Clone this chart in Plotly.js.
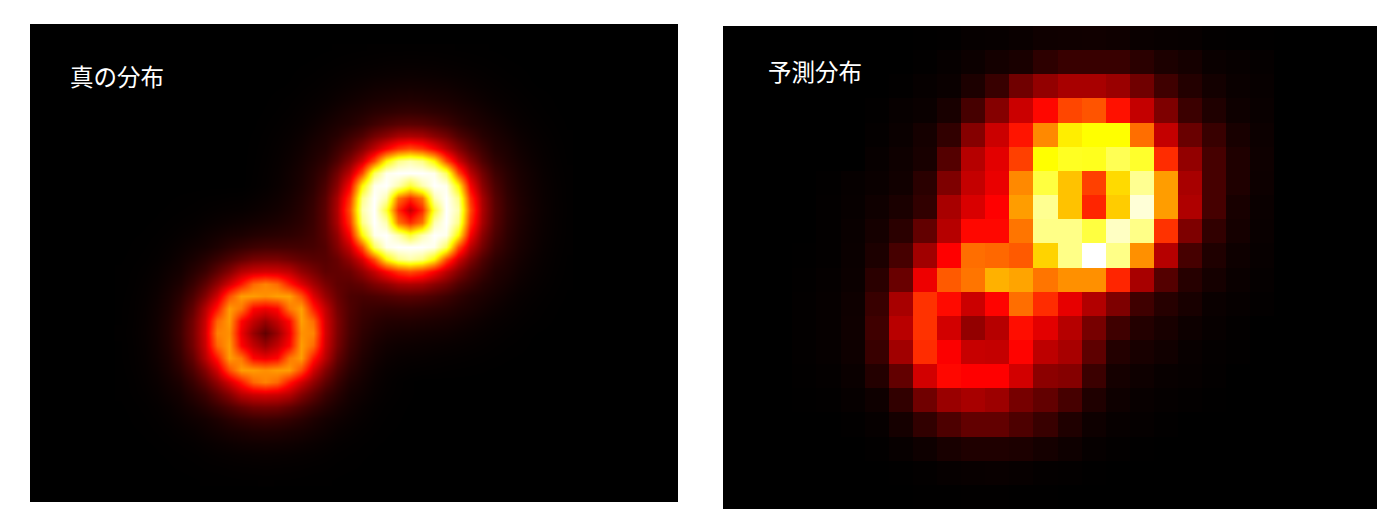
<!DOCTYPE html>
<html><head><meta charset="utf-8">
<script src="https://cdn.plot.ly/plotly-3.0.1.min.js"></script>
<style>html,body{margin:0;padding:0;background:#fff}#c{width:1400px;height:529px}</style>
</head><body><div id="c"></div>
<script>
const titles = ["真の分布", "予測分布"];
const heatStops = [[0,"#000000"],[0.365,"#ff0000"],[0.746,"#ffff00"],[1,"#ffffff"]];

// 真の分布: values (0-100 on the heat scale)
const trueZ = [
[0,0,0,0,0,0,0,0,0,0,0,0,0,0,0,0,0,.05,.1,.15,.2,.25,.3,.3,.35,.3,.3,.25,.2,.15,.1,.05,0,0,0,0,0,0],
[0,0,0,0,0,0,0,0,0,0,0,0,0,0,0,.05,.1,.2,.3,.4,.5,.6,.7,.75,.8,.75,.7,.6,.5,.4,.3,.2,.1,.05,0,0,0,0],
[0,0,0,0,0,0,0,0,0,0,0,0,0,0,.05,.15,.25,.4,.6,.8,1,1.2,1.4,1.5,1.6,1.5,1.4,1.2,1,.8,.6,.4,.25,.15,.05,0,0,0],
[0,0,0,0,0,0,0,0,0,0,0,0,0,.05,.1,.3,.45,.7,1,1.4,1.8,2.3,2.5,2.7,2.8,2.7,2.5,2.3,1.8,1.4,1,.7,.45,.3,.1,.05,0,0],
[0,0,0,0,0,0,0,0,0,0,0,0,.05,.15,.3,.5,.8,1.1,1.7,2.3,3,3.6,4,4.4,4.6,4.4,4,3.6,3,2.3,1.7,1.1,.8,.5,.3,.15,.05,0],
[0,0,0,0,0,0,0,0,0,0,0,0,.1,.25,.45,.8,1.2,1.9,2.8,3.8,4.6,5.8,6.5,7.2,7.5,7.2,6.5,5.8,4.6,3.8,2.8,1.9,1.2,.8,.45,.25,.1,0],
[0,0,0,0,0,0,0,0,0,0,0,.05,.2,.4,.7,1.1,1.9,2.9,4,5,6.8,9,11,12.5,13,12.5,11,9,6.8,5,4,2.9,1.9,1.1,.7,.4,.2,.05],
[0,0,0,0,0,0,0,0,0,0,0,.1,.3,.6,1,1.7,2.8,4,5.6,8.5,11.5,16.5,20,24,25,24,20,16.5,11.5,8.5,5.6,4,2.8,1.7,1,.6,.3,.1],
[0,0,0,0,0,0,0,0,0,0,0,.15,.4,.8,1.4,2.3,3.8,5,8.5,12.5,19,27,36,44,48,44,36,27,19,12.5,8.5,5,3.8,2.3,1.4,.8,.4,.15],
[0,0,0,0,0,0,0,0,0,0,0,.2,.5,1,1.8,3,4.6,6.8,11.5,19,30,48,74,88,92,88,74,48,30,19,11.5,6.8,4.6,3,1.8,1,.5,.2],
[0,0,0,0,0,0,0,0,0,0,0,.25,.6,1.2,2.3,3.6,5.8,9,16.5,27,48,84,98,100,100,100,98,84,48,27,16.5,9,5.8,3.6,2.3,1.2,.6,.25],
[0,0,0,0,0,0,0,0,0,0,0,.3,.7,1.4,2.5,4,6.5,11,20,36,74,98,100,92,80,92,100,98,74,36,20,11,6.5,4,2.5,1.4,.7,.3],
[0,0,0,0,.05,.1,.15,.25,.3,.4,.45,.8,1.3,2,3.15,4.8,7.5,12.75,24.15,44.1,88,100,92,54,43,54,92,100,88,44,24,12.5,7.2,4.4,2.7,1.5,.75,.3],
[0,0,0,.05,.1,.2,.3,.5,.7,.85,1,1.45,2,2.7,3.8,5.45,8.2,13.5,25.3,48.2,92,100,80,43,28,43,80,100,92,48,25,13,7.5,4.6,2.8,1.6,.8,.35],
[0,0,.05,.1,.25,.4,.6,1,1.4,1.8,2.2,2.7,3.25,3.9,4.9,6.2,8.6,13.5,24.6,44.4,88,100,92,54,43,54,92,100,88,44,24,12.5,7.2,4.4,2.7,1.5,.75,.3],
[0,.05,.1,.25,.45,.8,1.2,2,2.7,3.5,4,4.9,5.5,6,6.5,7.5,9.2,13,21.2,36.8,74.5,98,100,92,80,92,100,98,74,36,20,11,6.5,4,2.5,1.4,.7,.3],
[0,.1,.2,.4,.8,1.4,2.2,3,4.3,6,7.5,8.75,9.6,9.7,9.8,9.6,10.1,12,18.7,28.4,48.8,84,98,100,100,100,98,84,48,27,16.5,9,5.8,3.6,2.3,1.2,.6,.25],
[.05,.15,.3,.6,1.2,2.2,3.5,5.5,8,11,14,16.7,17.5,17.5,15.8,14,12.6,12.3,15,21.2,31.2,48.6,74.3,88,92,88,74,48,30,19,11.5,6.8,4.6,3,1.8,1,.5,.2],
[.1,.25,.5,1,2,3,5.5,8.5,13.5,19,26,29.15,30.4,29.8,27.4,21.3,17.3,13.5,14,15.5,21,28,36.5,44.25,48.1,44,36,27,19,12.5,8.5,5,3.8,2.3,1.4,.8,.4,.15],
[.1,.3,.7,1.4,2.7,4.3,8,13.5,21,30,40,52.1,56.3,52.6,41,31.7,23.8,17.5,13.6,12.8,14.2,17.9,20.7,24.3,25.1,24,20,16.5,11.5,8.5,5.6,4,2.8,1.7,1,.6,.3,.1],
[.15,.4,.85,1.8,3.5,6,11,19,30,48,60,60,58.2,60.4,60.7,49.1,31.9,21.9,15,11,10.3,10.8,11.85,12.9,13.15,12.5,11,9,6.8,5,4,2.9,1.9,1.1,.7,.4,.2,.05],
[.2,.45,1,2.2,4,7.5,14,26,40,60,54,37,34.1,37.25,54.45,60.8,41.2,27.9,16.8,11.3,8.6,8,7.5,7.65,7.7,7.2,6.5,5.8,4.6,3.8,2.8,1.9,1.2,.8,.45,.25,.1,0],
[.2,.5,1.1,2.4,4.6,8.5,16.5,29,52,60,37,28,22,28.15,37.3,60.5,52.8,30.1,18.2,10.8,7.6,6,5.1,4.9,4.8,4.4,4,3.6,3,2.3,1.7,1.1,.8,.5,.3,.15,.05,0],
[.25,.55,1.2,2.5,4.8,9,17,30,56,58,34,22,14,22.05,34.1,58.3,56.45,30.7,18,10.4,6.6,4.8,3.7,3.25,3.05,2.7,2.5,2.3,1.8,1.4,1,.7,.45,.3,.1,.05,0,0],
[.2,.5,1.1,2.4,4.6,8.5,16.5,29,52,60,37,28,22,28,37.05,60.15,52.25,29.4,17.1,9.3,5.6,3.6,2.5,2,1.8,1.6,1.4,1.2,1,.8,.6,.4,.25,.15,.05,0,0,0],
[.2,.45,1,2.2,4,7.5,14,26,40,60,54,37,34,37,54,60.05,40.1,26.2,14.3,7.9,4.5,2.8,1.7,1.2,1,.9,.7,.6,.5,.4,.3,.2,.1,.05,0,0,0,0],
[.15,.4,.85,1.8,3.5,6,11,19,30,48,60,60,58,60,60,48,30,19,11,6.05,3.6,1.95,1.05,.7,.5,.4,.35,.25,.2,.15,.1,.05,0,0,0,0,0,0],
[.1,.3,.7,1.4,2.7,4.3,8,13.5,21,30,40,52,56,52,40,30,21,13.5,8,4.3,2.7,1.4,.7,.3,.1,0,0,0,0,0,0,0,0,0,0,0,0,0],
[.1,.25,.5,1,2,3,5.5,8.5,13.5,19,26,29,30,29,26,19,13.5,8.5,5.5,3,2,1,.5,.25,.1,0,0,0,0,0,0,0,0,0,0,0,0,0],
[.05,.15,.3,.6,1.2,2.2,3.5,5.5,8,11,14,16.5,17,16.5,14,11,8,5.5,3.5,2.2,1.2,.6,.3,.15,.05,0,0,0,0,0,0,0,0,0,0,0,0,0],
[0,.1,.2,.4,.8,1.4,2.2,3,4.3,6,7.5,8.5,9,8.5,7.5,6,4.3,3,2.2,1.4,.8,.4,.2,.1,0,0,0,0,0,0,0,0,0,0,0,0,0,0],
[0,.05,.1,.25,.45,.8,1.2,2,2.7,3.5,4,4.6,4.8,4.6,4,3.5,2.7,2,1.2,.8,.45,.25,.1,.05,0,0,0,0,0,0,0,0,0,0,0,0,0,0],
[0,0,.05,.1,.25,.4,.6,1,1.4,1.8,2.2,2.4,2.5,2.4,2.2,1.8,1.4,1,.6,.4,.25,.1,.05,0,0,0,0,0,0,0,0,0,0,0,0,0,0,0],
[0,0,0,.05,.1,.2,.3,.5,.7,.85,1,1.1,1.2,1.1,1,.85,.7,.5,.3,.2,.1,.05,0,0,0,0,0,0,0,0,0,0,0,0,0,0,0,0],
[0,0,0,0,.05,.1,.15,.25,.3,.4,.45,.5,.55,.5,.45,.4,.3,.25,.15,.1,.05,0,0,0,0,0,0,0,0,0,0,0,0,0,0,0,0,0],
[0,0,0,0,0,0,.05,.1,.1,.15,.2,.2,.25,.2,.2,.15,.1,.1,.05,0,0,0,0,0,0,0,0,0,0,0,0,0,0,0,0,0,0,0]
];

// 予測分布: one value per visible cell (0-100 on the heat scale)
const predZ = [
[0,0,0,0,0,0,0,0,.1,.3,.8,1,1.5,2.2,2.3,2.4,2.2,1.5,1.2,1,.5,.3,.2,0,0,0,0,0],
[0,0,0,0,0,0,0,0,.3,.9,1.7,2.8,3.6,6.5,8,8,8,6,4,3,1.4,1,.7,0,0,0,0,0],
[0,0,0,0,0,0,0,.3,.9,1.5,4,8,16,21,24,24,22,16,9,5,2.7,1.5,1,0,0,0,0,0],
[0,0,0,0,0,0,.3,1,1.5,3.5,10,19,29,37.5,47,49,39,28,18,8.5,4.5,2,1.3,0,0,0,0,0],
[0,0,0,0,0,0,.6,1.5,3,7,19,29,39.5,57,72,74.6,74.6,53,28,15,8,3.5,1.7,0,0,0,0,0],
[0,0,0,0,0,0,1,2,3.5,12,26,32.5,46,74.6,78,77.5,83,79,43,21,10,4.5,2,0,0,0,0,0],
[0,0,0,0,.3,.8,1.5,2.5,6,18,28,33.5,57,81,65.5,46,69,89,60,24,10,4.5,1.8,0,0,0,0,0],
[0,0,0,0,.4,1,2.2,3.7,7,24,31,36.5,60,89,65.5,42,67,96,60,25,10,3.5,1.5,0,0,0,0,0],
[0,0,0,0,.5,1.3,3,6,14,26,37.5,37.5,54,88,88,81,94,88,44,18,7,3,1.3,0,0,0,0,0],
[0,0,0,.2,.5,1.5,4,10,23,36.5,53,52,50,68,88,100,88,58,26,10,4.5,2,1,0,0,0,0,0],
[0,0,0,.3,.7,1.6,6,15,34,50,54,63,61,54,58,58,42,24,12,5.5,3,1.5,.7,0,0,0,0,0],
[0,0,0,.5,.8,2,8,24,44,38,29,37,53,43,33,25.5,18,9,5.5,3.5,1.5,.9,.4,0,0,0,0,0],
[0,0,0,.5,.8,2.2,9,26.5,44,30,21,26,38.5,32.5,26,17,9,5,3.5,1.8,1,.5,0,0,0,0,0,0],
[0,0,0,.4,.8,2,8,23,43,36,28.5,28,37,27,24,13.5,5,3.5,2.5,1.2,.6,.3,0,0,0,0,0,0],
[0,0,0,.3,.6,1.5,5,14,30,37.5,36.5,36.5,30,20,19,8.5,3,2,1.2,.8,.4,0,0,0,0,0,0,0],
[0,0,0,.1,.3,.8,2,7,16,22,24,22.5,17,14,10,4.5,2,1.2,.7,.4,.2,0,0,0,0,0,0,0],
[0,0,0,0,0,.3,.8,3,7,11,14,14,11,8,4.5,2,1,.7,.3,0,0,0,0,0,0,0,0,0],
[0,0,0,0,0,0,.3,1,2,3.5,4.5,4.5,4,3,2,.9,.5,.2,0,0,0,0,0,0,0,0,0,0],
[0,0,0,0,0,0,0,.2,.5,.8,1.2,1.3,1,.6,.5,.2,0,0,0,0,0,0,0,0,0,0,0,0],
[0,0,0,0,0,0,0,0,.1,.2,.3,.3,.2,.15,0,0,0,0,0,0,0,0,0,0,0,0,0,0]
];

const hidden = {visible:false, fixedrange:true};
const data = [
 {type:"heatmap", z:trueZ, x0:-24, dx:1, y0:-13, dy:1, xaxis:"x", yaxis:"y", zmin:0, zmax:100,
  colorscale:heatStops, showscale:false, zsmooth:"best", hoverinfo:"skip"},
 {type:"heatmap", z:predZ, x0:0, dx:1, y0:0, dy:1, xaxis:"x2", yaxis:"y2", zmin:0, zmax:100,
  colorscale:heatStops, showscale:false, zsmooth:false, hoverinfo:"skip"}
];
const layout = {
 width:1400, height:529, margin:{l:0,r:0,t:0,b:0}, paper_bgcolor:"#ffffff", plot_bgcolor:"#000000", showlegend:false,
 xaxis:Object.assign({domain:[30/1400,678/1400], range:[-31.46,22.19]},hidden),
 yaxis:Object.assign({domain:[1-502/529,1-24/529], range:[23.74,-15.12]},hidden),
 xaxis2:Object.assign({domain:[723/1400,1377/1400], range:[-0.376,26.74]},hidden),
 yaxis2:Object.assign({domain:[1-509/529,1-26/529], range:[19.5,-0.5]},hidden),
 annotations:[
  {text:titles[0], xref:"paper", yref:"paper", x:68/1400, y:1-75.5/529, xanchor:"left", yanchor:"middle", showarrow:false,
   font:{family:"'Noto Sans CJK JP'", size:23.5, color:"#ffffff"}},
  {text:titles[1], xref:"paper", yref:"paper", x:766/1400, y:1-71/529, xanchor:"left", yanchor:"middle", showarrow:false,
   font:{family:"'Noto Sans CJK JP'", size:23.5, color:"#ffffff"}}
 ]
};
Plotly.newPlot("c", data, layout, {displayModeBar:false, staticPlot:true});
</script></body></html>
